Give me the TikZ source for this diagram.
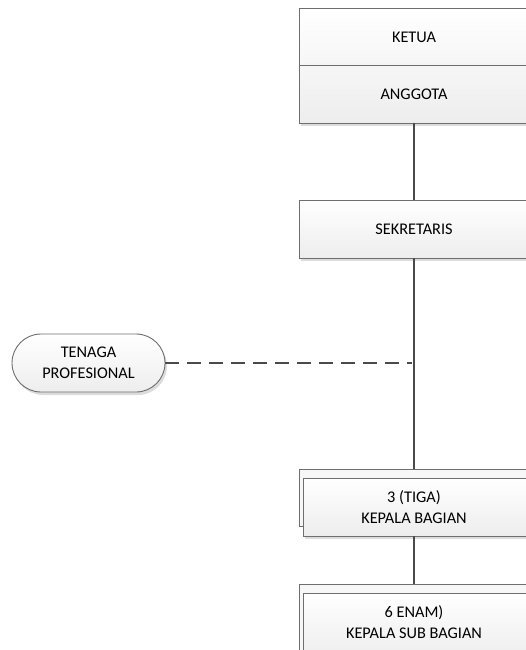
\documentclass[tikz,border=0pt]{standalone}
\usepackage{fontspec}
\setmainfont{Carlito}
\usetikzlibrary{shadows}
\definecolor{edge}{HTML}{6E6E6E}
\definecolor{linec}{HTML}{4A4A4A}
\definecolor{shadowc}{HTML}{DCDCDC}
\tikzset{
  boxbase/.style={draw=edge, line width=0.9pt, top color=white, bottom color=black!7, inner sep=0pt,
     drop shadow={shadow xshift=2pt, shadow yshift=-3pt, fill=shadowc, opacity=1}},
  backbox/.style={draw=edge, line width=0.9pt, fill=black!3},
  txt/.style={font=\fontsize{16.3}{21}\selectfont, align=center, text=black},
  conn/.style={draw=linec, line width=1.6pt},
  dashconn/.style={draw=linec, line width=1.4pt, dash pattern=on 14pt off 8pt},
}
\begin{document}
\begin{tikzpicture}[x=1pt,y=-1pt]
\useasboundingbox (0,0) rectangle (526,650);
% Ketua / Anggota
\path[boxbase] (299,8) rectangle (532,123);
\draw[edge, line width=0.9pt] (299,65) -- (532,65);
\node[txt] (ketua) at (414,37) {KETUA};
\node[txt] (anggota) at (414,94) {ANGGOTA};
\coordinate (kbot) at (414,123);
% Sekretaris
\path[boxbase] (299,200) rectangle (532,258);
\node[txt] (sek) at (414,229) {SEKRETARIS};
\coordinate (stop) at (414,200);
\coordinate (sbot) at (414,258);
% Tenaga profesional
\node[boxbase, rounded corners=29pt, minimum width=153pt, minimum height=58pt, txt] (ten) at (88.5,363) {TENAGA\\PROFESIONAL};
\coordinate (dashend) at (412,363);
% Kepala bagian
\path[backbox] (299,469) rectangle (532,526);
\path[boxbase] (303,478) rectangle (532,536);
\node[txt] (kb) at (414,507) {3 (TIGA)\\KEPALA BAGIAN};
\coordinate (kbtop) at (414,469);
\coordinate (kbbot) at (414,536);
% Kepala sub bagian
\path[backbox] (299,584) rectangle (532,660);
\path[boxbase] (303,593) rectangle (532,660);
\node[txt] (ksb) at (414,622) {6 ENAM)\\KEPALA SUB BAGIAN};
\coordinate (ksbtop) at (414,584);
% connectors
\draw[conn] (kbot) -- (stop);
\draw[conn] (sbot) -- (kbtop);
\draw[conn] (kbbot) -- (ksbtop);
\draw[dashconn] (ten.east) -- (dashend);
\end{tikzpicture}
\end{document}
